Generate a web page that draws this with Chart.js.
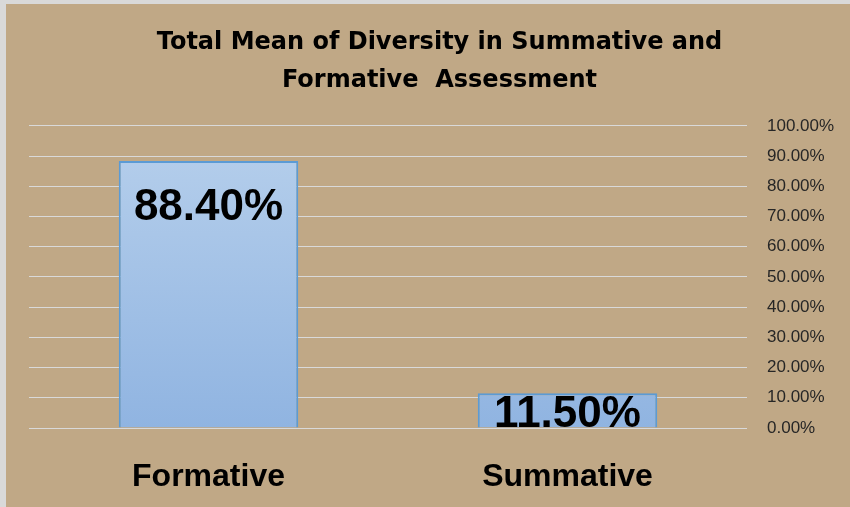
<!DOCTYPE html>
<html>
<head>
<meta charset="utf-8">
<script src="https://cdn.jsdelivr.net/npm/chart.js@4/dist/chart.umd.min.js"></script>
<style>
  html, body { margin: 0; padding: 0; background: #d9d9d9; }
  #wrap { position: absolute; left: 6px; top: 4px; width: 844px; height: 503px; background: #c0a886; }
</style>
</head>
<body>
<div id="wrap"><canvas id="c" width="844" height="503"></canvas></div>
<script>
const categories = ['Formative', 'Summative'];
const values = [0.884, 0.115];
const valueLabels = ['88.40%', '11.50%'];
const titleLines = ['Total Mean of Diversity in Summative and', 'Formative  Assessment'];

const FONT = "'Liberation Sans', Arial, sans-serif";
const TITLE_FONT = "'DejaVu Sans', sans-serif";

// labels drawn inside the top of each bar, clipped to the plot area
const barLabels = {
  id: 'barLabels',
  afterDatasetsDraw(chart) {
    const { ctx, chartArea } = chart;
    const meta = chart.getDatasetMeta(0);
    ctx.save();
    ctx.beginPath();
    ctx.rect(chartArea.left, chartArea.top, chartArea.width, chartArea.height);
    ctx.clip();
    ctx.font = 'bold 44px ' + FONT;
    ctx.fillStyle = '#000';
    ctx.textAlign = 'center';
    ctx.textBaseline = 'middle';
    meta.data.forEach((bar, i) => {
      const y = Math.min(bar.y + 47, (bar.y + bar.base) / 2 + 4);
      ctx.fillText(valueLabels[i], bar.x, y);
    });
    ctx.restore();
  }
};

const ctx = document.getElementById('c').getContext('2d');
const grad = (context) => {
  const a = context.chart.chartArea;
  if (!a) return '#a3c2e7';
  const g = context.chart.ctx.createLinearGradient(0, a.top, 0, a.bottom);
  g.addColorStop(0, '#b7d0ec');
  g.addColorStop(1, '#90b4e1');
  return g;
};

new Chart(ctx, {
  type: 'bar',
  data: {
    labels: categories,
    datasets: [{
      data: values,
      backgroundColor: grad,
      borderColor: '#5b9bd5',
      borderWidth: 2,
      borderSkipped: 'bottom',
      barPercentage: 0.5,
      categoryPercentage: 1,
    }],
  },
  options: {
    responsive: false,
    animation: false,
    layout: { padding: { left: 23, right: 0, top: 0, bottom: 0 } },
    plugins: {
      legend: { display: false },
      tooltip: { enabled: false },
      title: {
        display: true,
        text: titleLines,
        color: '#000',
        font: { family: TITLE_FONT, size: 24, weight: 'bold', lineHeight: 1.58 },
        padding: { top: 20, bottom: 26 },
      },
    },
    scales: {
      x: {
        grid: { display: false, drawTicks: false },
        border: { display: false },
        ticks: { color: '#000', font: { family: FONT, size: 32, weight: 'bold' }, padding: 30 },
        afterFit(s) { s.height = 79; },
      },
      y: {
        position: 'right',
        min: 0,
        max: 1,
        grid: { color: '#d9d9d9', lineWidth: 1, drawTicks: false },
        border: { display: false },
        ticks: {
          stepSize: 0.1,
          padding: 20,
          color: '#262626',
          font: { family: FONT, size: 17 },
          callback: (v) => (v * 100).toFixed(2) + '%',
        },
        afterFit(s) { s.width = 103; },
      },
    },
  },
  plugins: [barLabels],
});
</script>
</body>
</html>
